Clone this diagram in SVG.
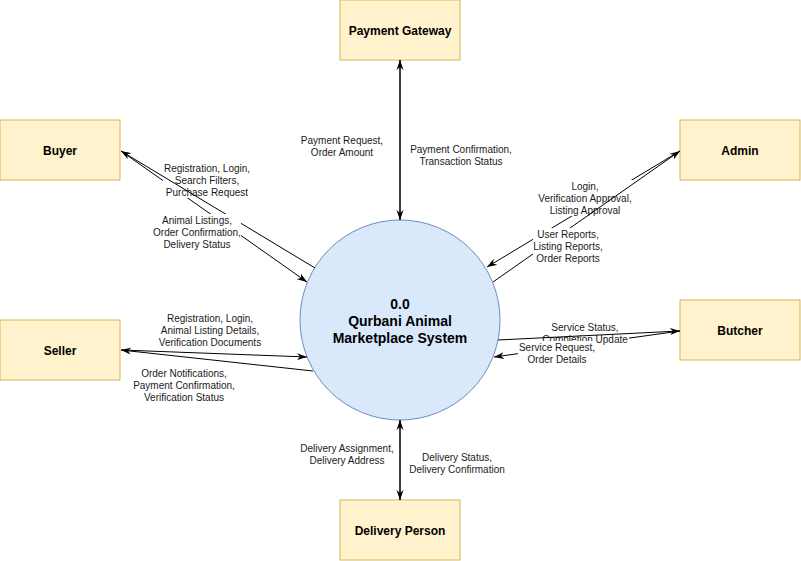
<svg xmlns="http://www.w3.org/2000/svg" width="801" height="561" viewBox="0 0 801 561">
<style>
.box{fill:#fff2cc;stroke:#d6b656;stroke-width:1}
.nt{font-family:"Liberation Sans",Arial,sans-serif;font-size:12px;font-weight:bold;fill:#000;text-anchor:middle}
.ct{font-family:"Liberation Sans",Arial,sans-serif;font-size:14px;font-weight:bold;fill:#000;text-anchor:middle}
.lt{font-family:"Liberation Sans",Arial,sans-serif;font-size:10px;fill:#1a1a1a;text-anchor:middle}
.bg{fill:#fff;stroke:none}
.ln{stroke:#000;stroke-width:1;fill:none;marker-end:url(#arr)}
</style>
<defs>
<marker id="arr" viewBox="0 0 10 8" refX="10" refY="4" markerWidth="10" markerHeight="8" markerUnits="userSpaceOnUse" orient="auto">
<path d="M0,0.5 L10,4 L0,7.5 L3,4 z" fill="#000"/>
</marker>
</defs>
<rect width="801" height="561" fill="#fff"/>

<g id="process">
<circle cx="400" cy="320" r="100" fill="#dae8fc" stroke="#6c8ebf" stroke-width="1"/>
<text class="ct" x="400" y="309">0.0</text>
<text class="ct" x="400" y="326">Qurbani Animal</text>
<text class="ct" x="400" y="343">Marketplace System</text>
</g>
<g id="payment-gateway"><rect class="box" x="340" y="0" width="120" height="60"/><text class="nt" x="400" y="35">Payment Gateway</text></g>
<g id="buyer"><rect class="box" x="0" y="120" width="120" height="60"/><text class="nt" x="60" y="155">Buyer</text></g>
<g id="admin"><rect class="box" x="680" y="120" width="120" height="60"/><text class="nt" x="740" y="155">Admin</text></g>
<g id="seller"><rect class="box" x="0" y="320" width="120" height="60"/><text class="nt" x="60" y="355">Seller</text></g>
<g id="butcher"><rect class="box" x="680" y="300" width="120" height="60"/><text class="nt" x="740" y="335">Butcher</text></g>
<g id="delivery-person"><rect class="box" x="340" y="500" width="120" height="60"/><text class="nt" x="400" y="535">Delivery Person</text></g>

<g id="connectors">
<!-- Payment -->
<line class="ln" x1="400" y1="220" x2="400" y2="60"/>
<line class="ln" x1="400" y1="60" x2="400" y2="220"/>
<g><rect class="bg" x="300" y="133" width="84" height="25"/>
<text class="lt" x="342" y="143.5">Payment Request,</text><text class="lt" x="342" y="155.5">Order Amount</text></g>
<g><rect class="bg" x="410" y="142" width="103" height="25"/>
<text class="lt" x="461" y="152.5">Payment Confirmation,</text><text class="lt" x="461" y="164.5">Transaction Status</text></g>

<!-- Buyer -->
<line class="ln" x1="121" y1="151" x2="307" y2="282"/>
<g><rect class="bg" x="163" y="162" width="88" height="36"/>
<text class="lt" x="207" y="171.5">Registration, Login,</text><text class="lt" x="207" y="183.5">Search Filters,</text><text class="lt" x="207" y="195.5">Purchase Request</text></g>
<line class="ln" x1="315" y1="268" x2="121" y2="151"/>
<g><rect class="bg" x="153" y="214" width="88" height="36"/>
<text class="lt" x="197" y="223.5">Animal Listings,</text><text class="lt" x="197" y="235.5">Order Confirmation,</text><text class="lt" x="197" y="247.5">Delivery Status</text></g>

<!-- Admin -->
<line class="ln" x1="680" y1="151" x2="487" y2="267"/>
<g><rect class="bg" x="537" y="180" width="96" height="36"/>
<text class="lt" x="585" y="189.5">Login,</text><text class="lt" x="585" y="201.5">Verification Approval,</text><text class="lt" x="585" y="213.5">Listing Approval</text></g>
<line class="ln" x1="493" y1="282" x2="680" y2="151"/>
<g><rect class="bg" x="533" y="228" width="70" height="36"/>
<text class="lt" x="568" y="237.5">User Reports,</text><text class="lt" x="568" y="249.5">Listing Reports,</text><text class="lt" x="568" y="261.5">Order Reports</text></g>

<!-- Seller -->
<line class="ln" x1="121" y1="350" x2="307" y2="357"/>
<line class="ln" x1="313" y1="371" x2="121" y2="350"/>
<g><rect class="bg" x="158" y="312" width="105" height="36"/>
<text class="lt" x="210" y="321.5">Registration, Login,</text><text class="lt" x="210" y="333.5">Animal Listing Details,</text><text class="lt" x="210" y="345.5">Verification Documents</text></g>
<g><rect class="bg" x="132" y="367" width="104" height="36"/>
<text class="lt" x="184" y="376.5">Order Notifications,</text><text class="lt" x="184" y="388.5">Payment Confirmation,</text><text class="lt" x="184" y="400.5">Verification Status</text></g>

<!-- Butcher -->
<line class="ln" x1="680" y1="331" x2="494" y2="357"/>
<g><rect class="bg" x="541" y="321" width="88" height="24"/>
<text class="lt" x="585" y="330.5">Service Status,</text><text class="lt" x="585" y="342.5">Completion Update</text></g>
<line class="ln" x1="498" y1="340" x2="680" y2="331"/>
<g><rect class="bg" x="518" y="341" width="78" height="24"/>
<text class="lt" x="557" y="350.5">Service Request,</text><text class="lt" x="557" y="362.5">Order Details</text></g>

<!-- Delivery -->
<line class="ln" x1="400" y1="500" x2="400" y2="420"/>
<line class="ln" x1="400" y1="420" x2="400" y2="500"/>
<g><rect class="bg" x="299" y="441" width="96" height="25"/>
<text class="lt" x="347" y="451.5">Delivery Assignment,</text><text class="lt" x="347" y="463.5">Delivery Address</text></g>
<g><rect class="bg" x="409" y="450" width="97" height="25"/>
<text class="lt" x="457" y="460.5">Delivery Status,</text><text class="lt" x="457" y="472.5">Delivery Confirmation</text></g>
</g>
</svg>
